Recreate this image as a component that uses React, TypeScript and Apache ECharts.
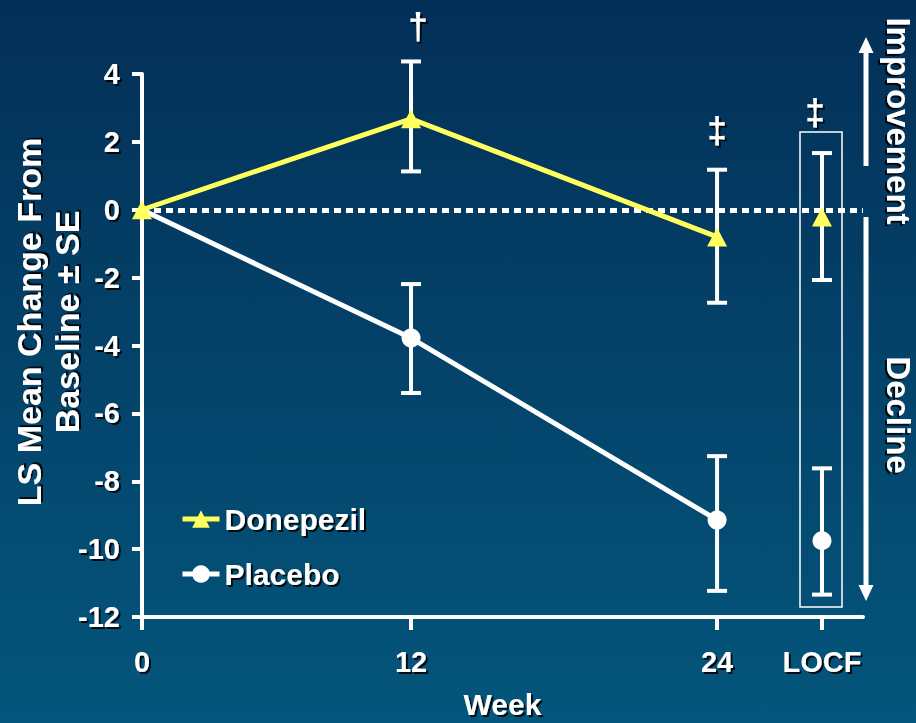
import React, { useEffect, useRef } from "react";
import * as echarts from "echarts";

// ---- data ----
const weekLabels = ["0", "12", "24", "LOCF"];
const donepezilMean = [0, 2.68, -0.8, -0.21];
const donepezilLow = [null, 1.13, -2.74, -2.07];
const donepezilHigh = [null, 4.37, 1.18, 1.67];
const placeboMean = [0, -3.78, -9.14, -9.75];
const placeboLow = [null, -5.4, -11.23, -11.34];
const placeboHigh = [null, -2.19, -7.26, -7.62];
const seriesNames = ["Donepezil", "Placebo"];
const markers = ["", "†", "‡", "‡"];

// ---- axis slot positions (the reference's x axis is not to scale) ----
const slotPos = [0, 12, 25.65, 30.33];
const xMax = 32.16;

const FONT = 'Arial, "Liberation Sans", sans-serif';
const WHITE = "#ffffff";
const YELLOW = "#ffff5e";
const shadow = {
  textShadowColor: "rgba(0,0,0,0.85)",
  textShadowBlur: 1,
  textShadowOffsetX: 2,
  textShadowOffsetY: 2,
};

export default function App() {
  const ref = useRef<HTMLDivElement>(null);
  useEffect(() => {
    if (!ref.current) return;
    const chart = echarts.init(ref.current, null, { renderer: "svg" });

    const lineData = (means: number[]) =>
      means.slice(0, 3).map((v, i) => [slotPos[i], v]);
    const locfData = (means: number[]) => [[slotPos[3], means[3]]];
    const errData = (lo: (number | null)[], hi: (number | null)[]) =>
      lo
        .map((l, i) => (l === null ? null : [slotPos[i], l, hi[i]]))
        .filter((d) => d !== null);

    const renderErr = (params: any, api: any) => {
      const x = api.value(0);
      const top = api.coord([x, api.value(2)]);
      const bot = api.coord([x, api.value(1)]);
      const hw = 10;
      const st = { stroke: WHITE, lineWidth: 4 };
      return {
        type: "group",
        children: [
          { type: "line", shape: { x1: top[0], y1: top[1], x2: bot[0], y2: bot[1] }, style: st },
          { type: "line", shape: { x1: top[0] - hw, y1: top[1], x2: top[0] + hw, y2: top[1] }, style: st },
          { type: "line", shape: { x1: bot[0] - hw, y1: bot[1], x2: bot[0] + hw, y2: bot[1] }, style: st },
        ],
      };
    };

    const textBase = {
      fill: WHITE,
      fontFamily: FONT,
      fontWeight: "bold",
      ...shadow,
    };

    const markerPos = [null, [418, 26], [717, 130], [815, 112]];

    const option: any = {
      animation: false,
      backgroundColor: new echarts.graphic.LinearGradient(0, 0, 0, 1, [
        { offset: 0, color: "#032f57" },
        { offset: 1, color: "#04567c" },
      ]),
      grid: {
        left: 142,
        top: 74,
        right: 53,
        bottom: 106,
        containLabel: false,
        outerBoundsMode: "none",
      },
      legend: {
        data: seriesNames,
        orient: "vertical",
        left: 175,
        top: 498,
        itemWidth: 37,
        itemHeight: 22,
        itemGap: 23,
        lineStyle: { width: 5 },
        textStyle: {
          color: WHITE,
          fontSize: 30,
          fontWeight: "bold",
          fontFamily: FONT,
          lineHeight: 32,
          ...shadow,
        },
      },
      xAxis: {
        type: "value",
        min: 0,
        max: xMax,
        name: "Week",
        nameLocation: "middle",
        nameGap: 72,
        nameTextStyle: { color: WHITE, fontSize: 30, fontWeight: "bold", fontFamily: FONT, ...shadow },
        splitLine: { show: false },
        axisLine: { show: true, onZero: false, lineStyle: { color: WHITE, width: 4 } },
        axisTick: {
          show: true,
          length: 13,
          customValues: slotPos,
          lineStyle: { color: WHITE, width: 4 },
        },
        axisLabel: {
          customValues: slotPos,
          margin: 30,
          color: WHITE,
          fontSize: 29,
          fontWeight: "bold",
          fontFamily: FONT,
          ...shadow,
          formatter: (v: number) => {
            const i = slotPos.findIndex((p) => Math.abs(p - v) < 1e-6);
            return i >= 0 ? weekLabels[i] : "";
          },
        },
      },
      yAxis: {
        type: "value",
        min: -12,
        max: 4,
        interval: 2,
        splitLine: { show: false },
        axisLine: { show: true, onZero: false, lineStyle: { color: WHITE, width: 4 } },
        axisTick: { show: true, length: 10, lineStyle: { color: WHITE, width: 4 } },
        axisLabel: {
          margin: 22,
          color: WHITE,
          fontSize: 29,
          fontWeight: "bold",
          fontFamily: FONT,
          ...shadow,
        },
      },
      series: [
        {
          type: "custom",
          name: "Donepezil SE",
          z: 3,
          renderItem: renderErr,
          encode: { x: 0, y: [1, 2] },
          data: errData(donepezilLow, donepezilHigh),
          markLine: {
            silent: true,
            symbol: ["none", "none"],
            label: { show: false },
            lineStyle: { color: WHITE, width: 5, type: [7, 5], cap: "butt", opacity: 1 },
            data: [{ yAxis: 0 }],
          },
        },
        {
          type: "custom",
          name: "Placebo SE",
          z: 3,
          renderItem: renderErr,
          encode: { x: 0, y: [1, 2] },
          data: errData(placeboLow, placeboHigh),
        },
        {
          type: "line",
          name: "Placebo",
          z: 10,
          data: lineData(placeboMean),
          symbol: "circle",
          symbolSize: (_v: any, p: any) => (p && p.dataIndex === 0 ? 0 : 19),
          lineStyle: { color: WHITE, width: 5 },
          itemStyle: { color: WHITE },
        },
        {
          type: "line",
          name: "Donepezil",
          z: 11,
          data: lineData(donepezilMean),
          symbol: "triangle",
          symbolSize: [20, 19],
          lineStyle: { color: YELLOW, width: 5 },
          itemStyle: { color: YELLOW },
        },
        {
          type: "scatter",
          name: "Placebo LOCF",
          z: 10,
          data: locfData(placeboMean),
          symbol: "circle",
          symbolSize: 19,
          itemStyle: { color: WHITE, opacity: 1 },
        },
        {
          type: "scatter",
          name: "Donepezil LOCF",
          z: 11,
          data: locfData(donepezilMean),
          symbol: "triangle",
          symbolSize: [20, 19],
          itemStyle: { color: YELLOW, opacity: 1 },
        },
      ],
      graphic: [
        {
          type: "text",
          x: 48,
          y: 322,
          rotation: Math.PI / 2,
          style: {
            ...textBase,
            text: "LS Mean Change From\nBaseline ± SE",
            fontSize: 34,
            lineHeight: 38,
            align: "center",
            verticalAlign: "middle",
          },
        },
        {
          type: "rect",
          shape: { x: 800, y: 132, width: 42, height: 475 },
          style: { fill: "none", stroke: WHITE, lineWidth: 1.5 },
        },
        {
          type: "line",
          shape: { x1: 866, y1: 166, x2: 866, y2: 50 },
          style: { stroke: WHITE, lineWidth: 5 },
        },
        {
          type: "polygon",
          shape: { points: [[866, 37], [858.5, 53], [873.5, 53]] },
          style: { fill: WHITE },
        },
        {
          type: "line",
          shape: { x1: 866, y1: 217, x2: 866, y2: 588 },
          style: { stroke: WHITE, lineWidth: 5 },
        },
        {
          type: "polygon",
          shape: { points: [[866, 601], [858.5, 585], [873.5, 585]] },
          style: { fill: WHITE },
        },
        {
          type: "text",
          x: 899,
          y: 121,
          rotation: -Math.PI / 2,
          style: {
            ...textBase,
            text: "Improvement",
            fontSize: 33,
            align: "center",
            verticalAlign: "middle",
          },
        },
        {
          type: "text",
          x: 899,
          y: 415,
          rotation: -Math.PI / 2,
          style: {
            ...textBase,
            text: "Decline",
            fontSize: 33,
            align: "center",
            verticalAlign: "middle",
          },
        },
        ...markers
          .map((m, i) =>
            m && markerPos[i]
              ? {
                  type: "text",
                  x: (markerPos[i] as number[])[0],
                  y: (markerPos[i] as number[])[1],
                  style: {
                    ...textBase,
                    text: m,
                    fontSize: 36,
                    align: "center",
                    verticalAlign: "middle",
                  },
                }
              : null
          )
          .filter((g) => g !== null),
      ],
    };

    chart.setOption(option);
    return () => chart.dispose();
  }, []);

  return (
    <div
      ref={ref}
      style={{ position: "fixed", left: 0, top: 0, width: 916, height: 723 }}
    />
  );
}
